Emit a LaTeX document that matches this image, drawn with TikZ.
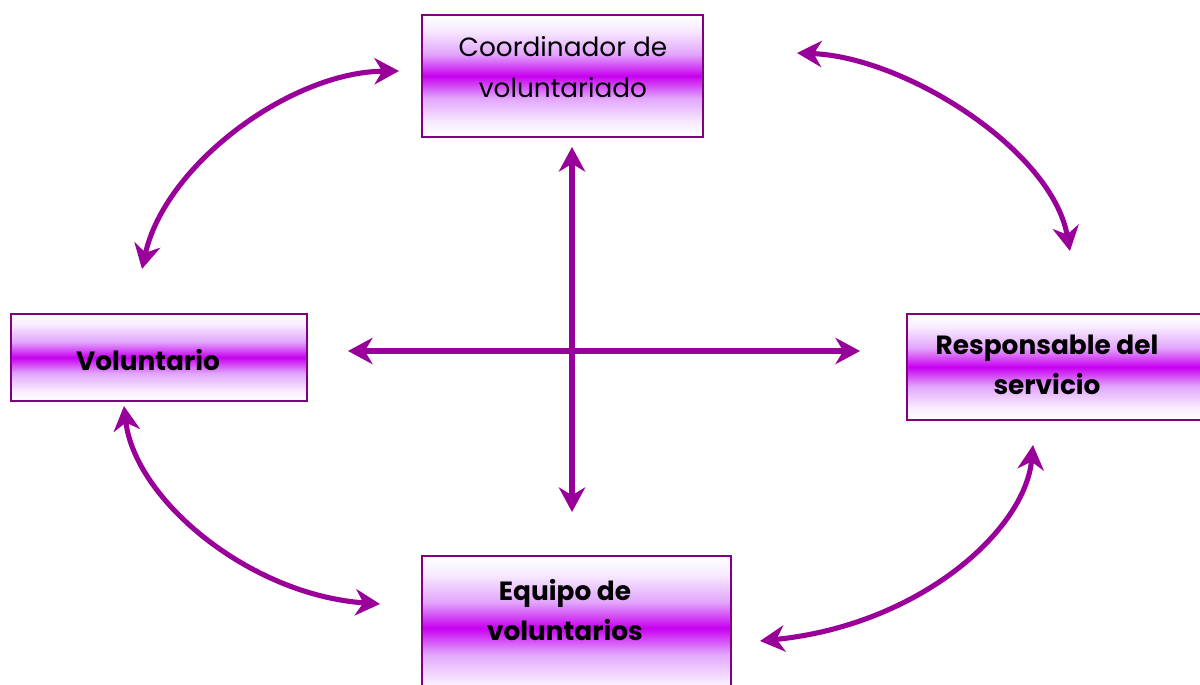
\documentclass[tikz,border=0pt]{standalone}
\usepackage{fontspec}
\setmainfont{Poppins}
\usetikzlibrary{arrows.meta}
\definecolor{arrowc}{RGB}{153,0,153}
\definecolor{borderc}{RGB}{128,0,128}
\definecolor{bandc}{RGB}{200,0,240}
\definecolor{lavc}{RGB}{226,165,252}
\definecolor{palec}{RGB}{248,236,255}
\pgfdeclareverticalshading{purpband}{100bp}{color(0bp)=(white); color(25bp)=(white); color(31bp)=(palec); color(41bp)=(lavc); color(50bp)=(bandc); color(59bp)=(lavc); color(69bp)=(palec); color(75bp)=(white); color(100bp)=(white)}
\tikzset{
  box/.style={draw=borderc, line width=1.1pt, shading=purpband, inner sep=0pt, outer sep=0pt},
  lbl/.style={align=center, inner sep=0pt, font=\fontsize{15}{23}\selectfont},
  lblb/.style={lbl, font=\fontsize{15}{23}\selectfont\bfseries},
  conn/.style={draw=arrowc, line width=2.9pt, {Stealth[length=14pt,width=15pt,inset=4.5pt]}-{Stealth[length=14pt,width=15pt,inset=4.5pt]}}
}
\begin{document}
\begin{tikzpicture}[x=0.02cm,y=-0.02cm]
\useasboundingbox (0,0) rectangle (1200,684);
\clip (0,0) rectangle (1200,684);
% boxes
\node[box, minimum width=5.62cm, minimum height=2.44cm] (coord) at (562.5,76) {};
\node[box, minimum width=5.92cm, minimum height=1.74cm] (vol) at (159,357.5) {};
\node[box, minimum width=6.06cm, minimum height=2.12cm] (resp) at (1058.5,367) {};
\node[box, minimum width=6.18cm, minimum height=2.88cm] (equipo) at (576.5,628) {};
% labels
\node[lbl] (coordT) at (563,67) {Coordinador de\\voluntariado};
\node[lblb] (volT) at (148,360) {Voluntario};
\node[lblb] (respT) at (1047,365) {Responsable del\\servicio};
\node[lblb] (equipoT) at (565,610) {Equipo de\\voluntarios};
% cross end points
\coordinate (hl) at (348,351);
\coordinate (hr) at (860,351);
\coordinate (vt) at (572,147);
\coordinate (vb) at (572,512);
\draw[conn] (hl) -- (hr);
\draw[conn] (vt) -- (vb);
% curved arrows end points
\coordinate (a1) at (142,269);
\coordinate (a2) at (399,71);
\coordinate (b1) at (797,53);
\coordinate (b2) at (1070,251);
\coordinate (c1) at (124,406);
\coordinate (c2) at (380,604);
\coordinate (d1) at (1033,445);
\coordinate (d2) at (760,641);
\draw[conn] (a1) .. controls (165,165) and (290,72) .. (a2);
\draw[conn] (b1) .. controls (905,57) and (1052,150) .. (b2);
\draw[conn] (c1) .. controls (135,500) and (250,595) .. (c2);
\draw[conn] (d1) .. controls (1025,530) and (920,625) .. (d2);
\end{tikzpicture}
\end{document}
